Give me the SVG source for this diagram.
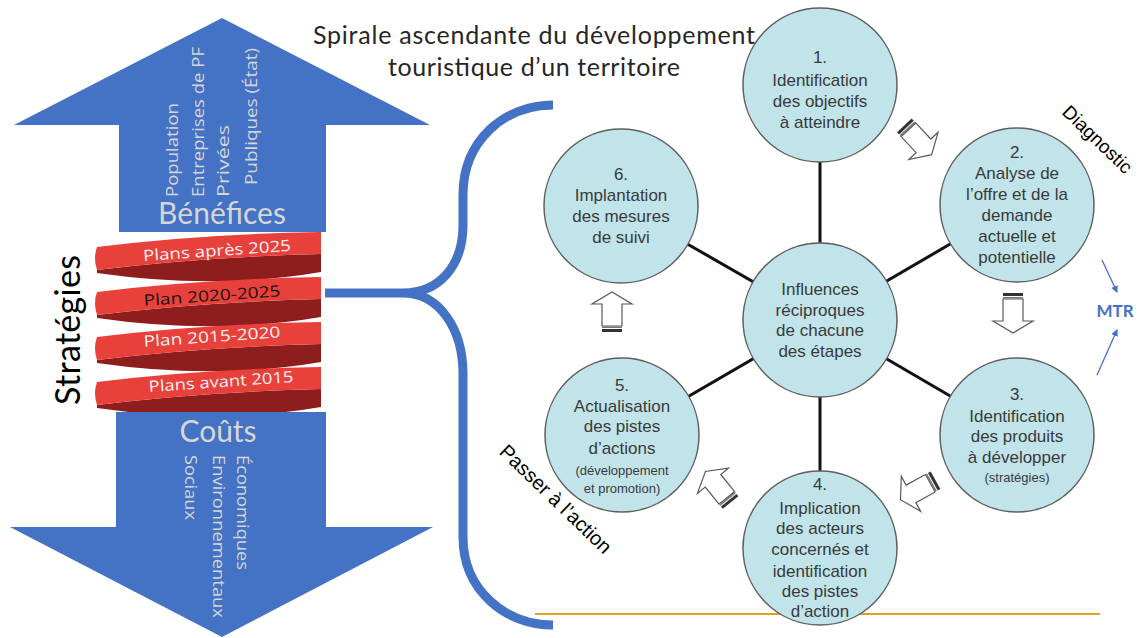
<svg xmlns="http://www.w3.org/2000/svg" xmlns:xlink="http://www.w3.org/1999/xlink" width="1138" height="638" viewBox="0 0 1138 638">
<style>
.cal{font-family:Lato,"Liberation Sans",sans-serif}
.seg{font-family:"Open Sans","Liberation Sans",sans-serif}
.arw{font-family:"Liberation Sans",Arial,sans-serif}
.ct{font-family:"Liberation Sans",Arial,sans-serif;font-size:17px;fill:#3a3a3a;text-anchor:middle}
.cs{font-size:13px}
.circ{fill:#c1e4ea;stroke:#5f5f5f;stroke-width:1.5}
.spoke{stroke:#111;stroke-width:3}
.big{fill:#4472c4}
.lt{fill:#d6d6d6}
.red{fill:#e8413c}
.dark{fill:#8e1d1d}
.lab{font-family:"Open Sans","Liberation Sans",sans-serif;font-size:15.5px;text-anchor:middle}
</style>
<defs>
<g id="barrow">
<rect x="-20" y="-10" width="3" height="20" fill="#333"/>
<rect x="-16" y="-10" width="1.4" height="20" fill="#777"/>
<path d="M-14,-10 L8,-10 L8,-20 L20,0 L8,20 L8,10 L-14,10 Z" fill="#fff" stroke="#595959" stroke-width="1.2"/>
</g>
<marker id="bh" markerWidth="7" markerHeight="7" refX="6" refY="3.5" orient="auto" markerUnits="userSpaceOnUse">
<path d="M0,0 L7,3.5 L0,7 Z" fill="#4472c4"/>
</marker>
</defs>
<rect width="1138" height="638" fill="#fff"/>

<g id="spiral">
<path class="dark" d="M97,270 Q200,257 321,254 L321,272 Q215,290 97,273 Z"/>
<path class="red" d="M97,247 Q200,234 321,232 L321,254 Q200,257 97,270 Q93,258 97,247 Z"/>
<path class="dark" d="M97,315 Q200,302 321,299 L321,317 Q215,335 97,318 Z"/>
<path class="red" d="M97,292 Q200,279 321,277 L321,299 Q200,302 97,315 Q93,303 97,292 Z"/>
<path class="dark" d="M97,360 Q200,347 321,344 L321,362 Q215,380 97,363 Z"/>
<path class="red" d="M97,337 Q200,324 321,322 L321,344 Q200,347 97,360 Q93,348 97,337 Z"/>
<path class="dark" d="M97,405 Q200,392 321,389 L321,407 Q215,425 97,408 Z"/>
<path class="red" d="M97,382 Q200,369 321,367 L321,389 Q200,392 97,405 Q93,393 97,382 Z"/>
<text class="lab" x="217" y="256" fill="#f2f2f2" textLength="148" lengthAdjust="spacingAndGlyphs" transform="rotate(-4 217 250)">Plans après 2025</text>
<text class="lab" x="212" y="301" fill="#111" textLength="137" lengthAdjust="spacingAndGlyphs" transform="rotate(-4 212 295)">Plan 2020-2025</text>
<text class="lab" x="212" y="342" fill="#f2f2f2" textLength="137" lengthAdjust="spacingAndGlyphs" transform="rotate(-4 212 336)">Plan 2015-2020</text>
<text class="lab" x="221" y="387" fill="#f2f2f2" textLength="145" lengthAdjust="spacingAndGlyphs" transform="rotate(-4 221 381)">Plans avant 2015</text>
</g>

<g id="benefices">
<path class="big" d="M222,18 L430,125 L326,125 L326,232 L119,232 L119,125 L14,125 Z"/>
<g class="seg lt" font-size="17">
<text transform="translate(178,197) rotate(-90)" textLength="94" lengthAdjust="spacingAndGlyphs">Population</text>
<text transform="translate(204,197) rotate(-90)" textLength="150" lengthAdjust="spacingAndGlyphs">Entreprises de PF</text>
<text transform="translate(229,197) rotate(-90)" textLength="72" lengthAdjust="spacingAndGlyphs">Privées</text>
<text transform="translate(257,185) rotate(-90)" textLength="137" lengthAdjust="spacingAndGlyphs">Publiques (État)</text>
</g>
<text class="cal lt" x="222" y="224" font-size="30" text-anchor="middle" textLength="128">Bénéfices</text>
</g>

<g id="couts">
<path class="big" d="M116,412 L326,412 L326,527 L433,527 L222,637 L10,527 L116,527 Z"/>
<text class="cal lt" x="218" y="442" font-size="30" text-anchor="middle" textLength="77">Coûts</text>
<g class="seg lt" font-size="17">
<text transform="translate(185,455) rotate(90)" textLength="65" lengthAdjust="spacingAndGlyphs">Sociaux</text>
<text transform="translate(213,455) rotate(90)" textLength="163" lengthAdjust="spacingAndGlyphs">Environnementaux</text>
<text transform="translate(237,455) rotate(90)" textLength="115" lengthAdjust="spacingAndGlyphs">Économiques</text>
</g>
</g>

<g id="strategies">
<text class="cal" x="0" y="0" font-size="34" fill="#000" text-anchor="middle" textLength="150" transform="translate(80,330) rotate(-90)">Stratégies</text>
</g>

<g id="connectors">
<line x1="535" y1="614" x2="1100" y2="614" stroke="#e3a01c" stroke-width="2"/>
<path d="M325,293 L403,293 M553,105 C505,105 463,140 463,195 L463,225 C463,265 440,293 403,293 C440,293 463,330 463,374 L463,537 C463,590 505,625 553,625" fill="none" stroke="#4472c4" stroke-width="9"/>
<line class="spoke" x1="820" y1="320" x2="820" y2="85"/>
<line class="spoke" x1="820" y1="320" x2="1017" y2="205"/>
<line class="spoke" x1="820" y1="320" x2="1017" y2="435"/>
<line class="spoke" x1="820" y1="320" x2="820" y2="548"/>
<line class="spoke" x1="820" y1="320" x2="622" y2="435"/>
<line class="spoke" x1="820" y1="320" x2="621" y2="206"/>
<use xlink:href="#barrow" transform="translate(918,140) rotate(47)"/>
<use xlink:href="#barrow" transform="translate(1013,313) rotate(90)"/>
<use xlink:href="#barrow" transform="translate(918,490) rotate(151)"/>
<use xlink:href="#barrow" transform="translate(718,487) rotate(-129)"/>
<use xlink:href="#barrow" transform="translate(612,312) rotate(-90)"/>
<line x1="1102" y1="260" x2="1117" y2="292" stroke="#4472c4" stroke-width="1.3" marker-end="url(#bh)"/>
<line x1="1097" y1="375" x2="1117" y2="330" stroke="#4472c4" stroke-width="1.3" marker-end="url(#bh)"/>
</g>

<g id="c1">
<circle class="circ" cx="820" cy="85" r="77"/>
<text class="ct"><tspan x="820" y="63">1.</tspan><tspan x="820" y="86">Identification</tspan><tspan x="820" y="107">des objectifs</tspan><tspan x="820" y="128">à atteindre</tspan></text>
</g>
<g id="c2">
<circle class="circ" cx="1017" cy="205" r="77"/>
<text class="ct"><tspan x="1017" y="158">2.</tspan><tspan x="1017" y="179">Analyse de</tspan><tspan x="1017" y="200">l’offre et de la</tspan><tspan x="1017" y="221">demande</tspan><tspan x="1017" y="242">actuelle et</tspan><tspan x="1017" y="263">potentielle</tspan></text>
</g>
<g id="c3">
<circle class="circ" cx="1017" cy="435" r="77"/>
<text class="ct"><tspan x="1017" y="400">3.</tspan><tspan x="1017" y="422">Identification</tspan><tspan x="1017" y="442">des produits</tspan><tspan x="1017" y="463">à développer</tspan><tspan class="cs" x="1017" y="482">(stratégies)</tspan></text>
</g>
<g id="c4">
<circle class="circ" cx="820" cy="548" r="77"/>
<text class="ct"><tspan x="820" y="490">4.</tspan><tspan x="820" y="514">Implication</tspan><tspan x="820" y="534">des acteurs</tspan><tspan x="820" y="555">concernés et</tspan><tspan x="820" y="577">identification</tspan><tspan x="820" y="597">des pistes</tspan><tspan x="820" y="617">d’action</tspan></text>
</g>
<g id="c5">
<circle class="circ" cx="622" cy="435" r="77"/>
<text class="ct"><tspan x="622" y="391">5.</tspan><tspan x="622" y="412">Actualisation</tspan><tspan x="622" y="432">des pistes</tspan><tspan x="622" y="454">d’actions</tspan><tspan class="cs" x="622" y="475">(développement</tspan><tspan class="cs" x="622" y="493">et promotion)</tspan></text>
</g>
<g id="c6">
<circle class="circ" cx="621" cy="206" r="77"/>
<text class="ct"><tspan x="621" y="180">6.</tspan><tspan x="621" y="201">Implantation</tspan><tspan x="621" y="222">des mesures</tspan><tspan x="621" y="243">de suivi</tspan></text>
</g>
<g id="center">
<circle class="circ" cx="820" cy="320" r="77"/>
<text class="ct"><tspan x="820" y="295">Influences</tspan><tspan x="820" y="316">réciproques</tspan><tspan x="820" y="336">de chacune</tspan><tspan x="820" y="357">des étapes</tspan></text>
</g>

<g id="title">
<text class="cal" font-size="25" fill="#262626" text-anchor="middle"><tspan x="534" y="44" textLength="442">Spirale ascendante du développement</tspan><tspan x="534" y="76" textLength="292">touristique d’un territoire</tspan></text>
</g>
<g id="labels">
<text class="arw" x="0" y="0" font-size="19" fill="#000" text-anchor="middle" transform="translate(1093,144) rotate(44)">Diagnostic</text>
<text class="arw" x="0" y="0" font-size="20" fill="#000" text-anchor="middle" transform="translate(551,504) rotate(44)">Passer à l’action</text>
<text x="1115" y="317" font-family="Lato,'Liberation Sans',sans-serif" font-weight="bold" font-size="17" fill="#4472c4" text-anchor="middle">MTR</text>
</g>
</svg>
